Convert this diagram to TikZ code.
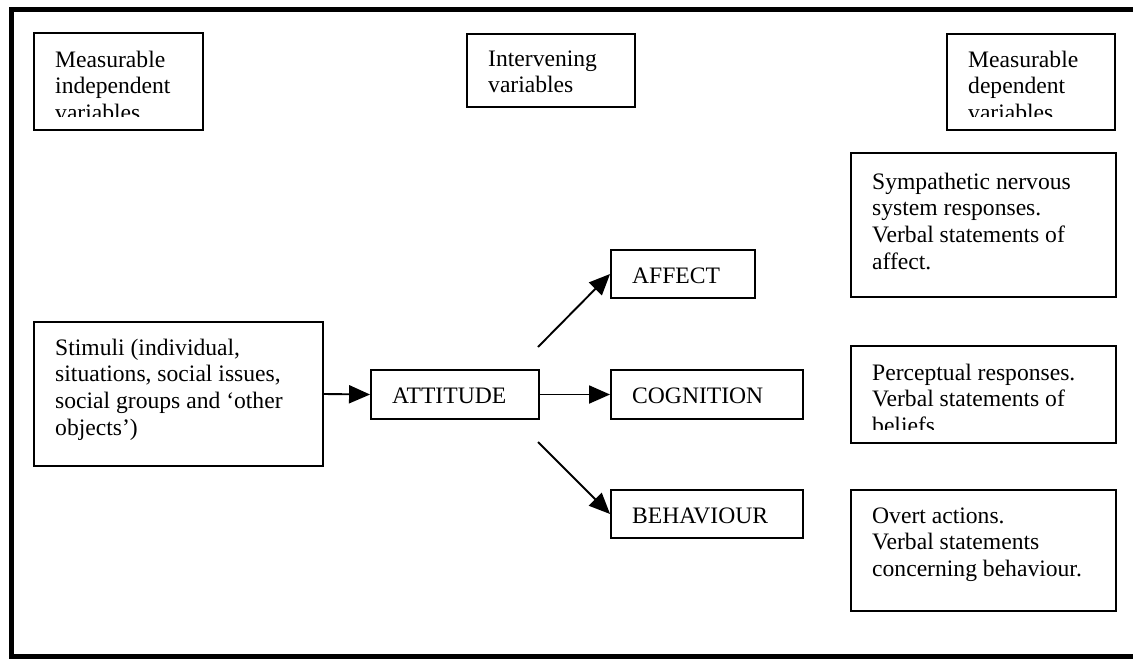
\documentclass[tikz,border=0pt]{standalone}
\usepackage{fontspec}
\setmainfont{Liberation Serif}
\usetikzlibrary{arrows.meta}
\tikzset{
  box/.style={draw, line width=1.9pt, inner sep=0pt, fill=none},
  lbl/.style={anchor=base west, inner sep=0pt},
  arr/.style={line width=1.9pt, -{Triangle[length=21pt, width=18pt]}},
  frame/.style={line width=5pt}
}
% #1 name, #2 x1, #3 y1, #4 x2, #5 y2, #6 baseline offset, #7 text
\newcommand{\tbox}[7]{%
  \node[box, minimum width={#4-#2}, minimum height={#5-#3}] (#1) at ({(#2+#4)/2},{(#3+#5)/2}) {};
  \begin{scope}
    \clip (#2,#3) rectangle (#4,#5-14);
    \node[lbl] (#1-t) at (#2+21,#3+#6) {\parbox[t]{300pt}{\raggedright\fontsize{23.6pt}{26.7pt}\selectfont #7}};
  \end{scope}
}
\begin{document}
\begin{tikzpicture}[x=1pt, y=-1pt]
  \useasboundingbox (0,0) rectangle (1133,659);
  % outer frame
  \draw[frame] (1133,9.5) -- (11,9.5) -- (11,656) -- (1133,656);

  % headings
  \tbox{ind}{34}{33}{203}{130}{34}{Measurable\\independent\\variables}
  \tbox{inter}{467}{34}{635}{107}{32}{Intervening\\variables}
  \tbox{dep}{947}{34}{1115}{130}{33}{Measurable\\dependent\\variables}

  % main flow
  \tbox{stim}{34}{322}{323}{466}{33}{Stimuli (individual,\\situations, social issues,\\social groups and ‘other\\objects’)}
  \tbox{att}{371}{370}{539}{419}{33}{ATTITUDE}
  \tbox{aff}{611}{250}{755}{298}{33}{AFFECT}
  \tbox{cog}{611}{370}{803}{419}{33}{COGNITION}
  \tbox{beh}{611}{490}{803}{538}{33}{BEHAVIOUR}

  % responses
  \tbox{symp}{851}{153}{1116}{297}{36}{Sympathetic nervous\\system responses.\\Verbal statements of\\affect.}
  \tbox{perc}{851}{346}{1116}{443}{34}{Perceptual responses.\\Verbal statements of\\beliefs}
  \tbox{overt}{851}{490}{1116}{611}{33}{Overt actions.\\Verbal statements\\concerning behaviour.}

  % connectors
  \coordinate (a1) at (538,347);
  \coordinate (b1) at (538,442);
  \draw[arr] (stim.east) -- (att.west);
  \draw[arr] (att.east) -- (cog.west);
  \draw[arr] (a1) -- (aff.west);
  \draw[arr] (b1) -- (beh.west);
\end{tikzpicture}
\end{document}
